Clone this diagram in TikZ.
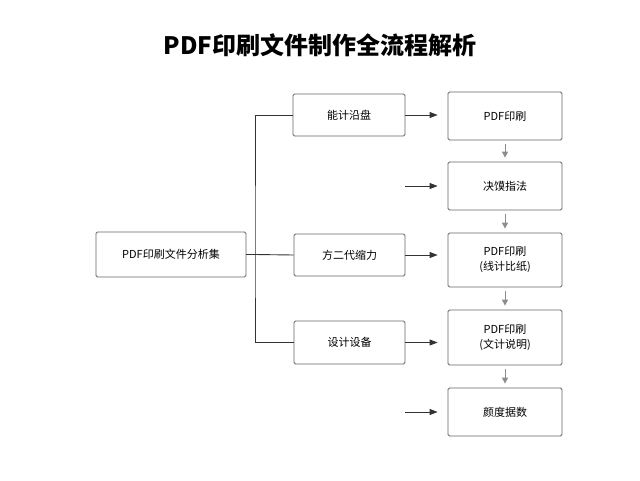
\documentclass[tikz,border=0pt]{standalone}
\usepackage{fontspec}
\setmainfont{Noto Sans CJK SC}
\usetikzlibrary{arrows.meta}
\usetikzlibrary{positioning}

\tikzset{
  box/.style={draw=black!60,line width=0.8pt,rounded corners=1.5pt,fill=white,font=\fontsize{11}{15}\selectfont,align=center,inner sep=0pt},
  link/.style={draw=black!80,line width=0.9pt},
  feed/.style={link,-{Triangle[length=8pt,width=6pt]},shorten >=10pt},
  nextstep/.style={draw=black!45,line width=1pt,-{Triangle[length=6pt,width=6pt]}}
}

\begin{document}
\begin{tikzpicture}[x=1pt,y=-1pt]
  \useasboundingbox (0,0) rectangle (640,480);
  \node[font=\fontsize{24}{28}\bfseries\selectfont] (title) at (320,45) {PDF印刷文件制作全流程解析};

  \node[box,minimum width=150pt,minimum height=45pt] (main) at (171,254.5) {PDF印刷文件分析集};

  \node[box,minimum width=112pt,minimum height=42pt] (m1) at (349,115) {能计沿盘};
  \node[box,minimum width=111pt,minimum height=42pt] (m2) at (349.5,255) {方二代缩力};
  \node[box,minimum width=111pt,minimum height=43pt] (m3) at (349.5,342.5) {设计设备};

  \node[box,minimum width=114pt,minimum height=48pt] (r1) at (505,116) {PDF印刷};
  \node[box,minimum width=114pt,minimum height=48pt] (r2) at (505,186) {决馍指法};
  \node[box,minimum width=114pt,minimum height=54pt] (r3) at (505,260) {PDF印刷\\(线计比纸)};
  \node[box,minimum width=114pt,minimum height=55pt] (r4) at (505,337.5) {PDF印刷\\(文计说明)};
  \node[box,minimum width=114pt,minimum height=48pt] (r5) at (505,412) {颜度据数};

  \coordinate (bus) at (255,254.5);
  \coordinate (in2) at (405,186);
  \coordinate (in5) at (405,412);

  % tree
  \draw[link] (main.east) -- (bus);
  \draw[link] (m1.west) -| (bus) |- (m3.west);
  \draw[link] (bus) -- (m2.west);

  % feeds
  \draw[feed] (m1.east) -- (m1.east -| r1.west);
  \draw[feed] (in2) -- (r2.west);
  \draw[feed] (m2.east) -- (m2.east -| r3.west);
  \draw[feed] (m3.east) -- (m3.east -| r4.west);
  \draw[feed] (in5) -- (r5.west);

  % steps
  \foreach \a/\b in {r1/r2,r2/r3,r3/r4,r4/r5}
    \draw[nextstep] ([yshift=-4pt]\a.south) -- ([yshift=4pt]\b.north);
\end{tikzpicture}
\end{document}
